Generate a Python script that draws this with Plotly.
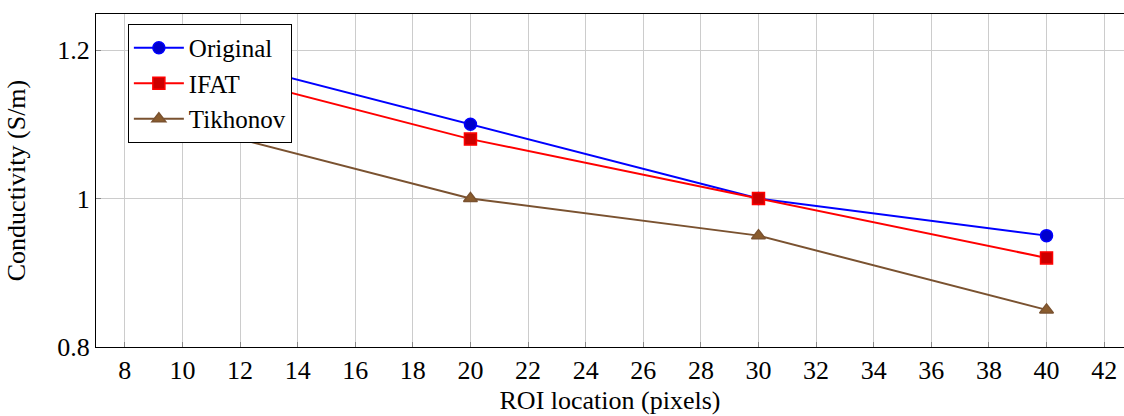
import plotly.graph_objects as go

# ROI locations (pixels) and reconstructed conductivity (S/m)
roi_location = [10, 20, 30, 40]
original = [1.20, 1.10, 1.00, 0.95]
ifat = [1.18, 1.08, 1.00, 0.92]
tikhonov = [1.10, 1.00, 0.95, 0.85]

x_ticks = list(range(8, 43, 2))

series = [
    ("Original", original, "#0000ff", "#0000cc", "circle"),
    ("IFAT", ifat, "#ff0000", "#cc0000", "square"),
    ("Tikhonov", tikhonov, "#7a5230", "#8a5c2e", "triangle-up"),
]

fig = go.Figure()
for name, values, line_color, fill_color, symbol in series:
    fig.add_trace(go.Scatter(
        x=roi_location, y=values, name=name, mode="lines+markers",
        line=dict(color=line_color, width=2),
        marker=dict(symbol=symbol, size=12, color=fill_color,
                    line=dict(color=line_color, width=1.5)),
    ))

serif = "'Liberation Serif', 'Times New Roman', Times, serif"
size = 26
font = dict(family=serif, size=size, color="black")

fig.update_layout(
    template="none",
    width=1124, height=416,
    margin=dict(l=96, r=0, t=14, b=69),
    paper_bgcolor="white", plot_bgcolor="white",
    font=font,
    showlegend=True,
    legend=dict(
        x=0.031, y=0.97, xanchor="left", yanchor="top",
        bgcolor="white", bordercolor="black", borderwidth=1,
        font=dict(family=serif, size=25, color="black"),
        tracegroupgap=0, itemwidth=50,
    ),
    xaxis=dict(
        range=[7, 42.69], tickvals=x_ticks, tickfont=font,
        showgrid=True, gridcolor="#cccccc", gridwidth=1,
        showline=True, linecolor="black", linewidth=1, mirror=True,
        ticks="inside", ticklen=5, tickcolor="#888888",
        zeroline=False, automargin=False,
        title=dict(text="ROI location (pixels)", standoff=6, font=font),
    ),
    yaxis=dict(
        range=[0.8, 1.2485], tick0=0.8, dtick=0.2, tickfont=font,
        showgrid=True, gridcolor="#cccccc", gridwidth=1,
        showline=True, linecolor="black", linewidth=1,
        ticks="inside", ticklen=5, tickcolor="#888888",
        zeroline=False, automargin=False,
        title=dict(text="Conductivity (S/m)", standoff=24, font=font),
    ),
)

fig.write_html("out.html")
